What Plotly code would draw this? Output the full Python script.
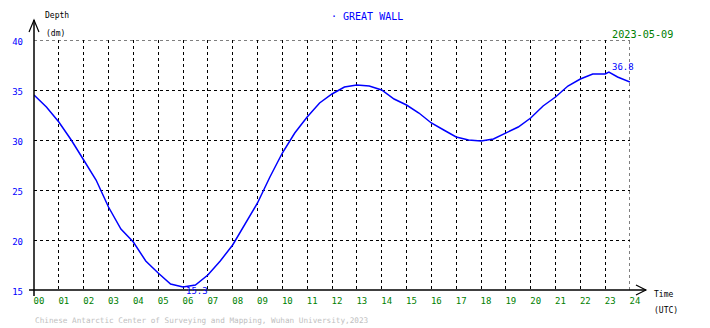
import plotly.graph_objects as go

# ---- data ----
hours = [0, 0.5, 1, 1.5, 2, 2.5, 3, 3.5, 4, 4.5, 5, 5.5, 6, 6.5, 7, 7.5, 8, 8.5, 9,
         9.5, 10, 10.5, 11, 11.5, 12, 12.5, 13, 13.5, 14, 14.5, 15, 15.5, 16, 16.5,
         17, 17.5, 18, 18.5, 19, 19.5, 20, 20.5, 21, 21.5, 22, 22.5, 23, 23.15, 23.5, 24]
depth = [34.5, 33.3, 31.8, 30.0, 28.0, 26.0, 23.3, 21.1, 19.8, 17.9, 16.7, 15.6, 15.3,
         15.5, 16.5, 17.9, 19.5, 21.6, 23.7, 26.3, 28.7, 30.7, 32.3, 33.7, 34.6, 35.3,
         35.5, 35.4, 35.0, 34.1, 33.5, 32.7, 31.7, 31.0, 30.3, 30.0, 29.9, 30.1, 30.7,
         31.3, 32.2, 33.4, 34.3, 35.4, 36.1, 36.6, 36.6, 36.8, 36.3, 35.8]
x_tick_vals = list(range(0, 25))
x_tick_text = ["%02d" % h for h in x_tick_vals]
y_tick_vals = [15, 20, 25, 30, 35, 40]
y_tick_text = [str(v) for v in y_tick_vals]
station = "GREAT WALL"
date_text = "2023-05-09"
footer = "Chinese Antarctic Center of Surveying and Mapping, Wuhan University,2023"

MONO = "DejaVu Sans Mono"
BLUE = "#0000ff"
GREEN = "#008000"

X_RANGE = [0, 24]
Y_RANGE = [15, 40]

# plot area in pixels: x 30..630, y 40..290
L, R, T, B = 30, 80, 40, 38
W, H = 710, 328
PW, PH = W - L - R, H - T - B


def px(xp):
    return (xp - L) / PW


def py(yp):
    return (H - B - yp) / PH


fig = go.Figure()
fig.add_trace(go.Scatter(x=hours, y=depth, mode="lines",
                         line=dict(color=BLUE, width=1.5), hoverinfo="skip"))

imin = depth.index(min(depth))
imax = depth.index(max(depth))

annotations = [
    dict(x=px(327), y=py(17), xref="paper", yref="paper", text="· " + station,
         showarrow=False, xanchor="left", yanchor="middle",
         font=dict(family=MONO, size=10, color=BLUE)),
    dict(x=px(610), y=py(35), xref="paper", yref="paper", text=date_text,
         showarrow=False, xanchor="left", yanchor="middle",
         font=dict(family=MONO, size=10.2, color=GREEN)),
    dict(x=px(39), y=py(16), xref="paper", yref="paper", text="Depth",
         showarrow=False, xanchor="left", yanchor="middle",
         font=dict(family=MONO, size=8, color="black")),
    dict(x=px(40), y=py(34), xref="paper", yref="paper", text="(dm)",
         showarrow=False, xanchor="left", yanchor="middle",
         font=dict(family=MONO, size=8, color="black")),
    dict(x=px(652), y=py(294), xref="paper", yref="paper", text="Time",
         showarrow=False, xanchor="left", yanchor="middle",
         font=dict(family=MONO, size=8, color="black")),
    dict(x=px(652), y=py(310), xref="paper", yref="paper", text="(UTC)",
         showarrow=False, xanchor="left", yanchor="middle",
         font=dict(family=MONO, size=8, color="black")),
    dict(x=px(29), y=py(320), xref="paper", yref="paper", text=footer,
         showarrow=False, xanchor="left", yanchor="middle",
         font=dict(family=MONO, size=7.7, color="#c0c0c0")),
    dict(x=hours[imin], y=depth[imin], xref="x", yref="y", text="%.1f" % depth[imin],
         showarrow=False, xanchor="left", yanchor="middle", xshift=1, yshift=-4,
         font=dict(family=MONO, size=9, color=BLUE)),
    dict(x=hours[imax], y=depth[imax], xref="x", yref="y", text="%.1f" % depth[imax],
         showarrow=False, xanchor="left", yanchor="middle", xshift=1, yshift=5,
         font=dict(family=MONO, size=9, color=BLUE)),
]

grid_line = dict(color="black", width=1, dash="dot")
shapes = [
    # edge grid lines (top and right) that plotly omits at range ends
    dict(type="line", xref="x", yref="y", x0=X_RANGE[0], x1=X_RANGE[1],
         y0=Y_RANGE[1], y1=Y_RANGE[1], line=grid_line, layer="below"),
    dict(type="line", xref="x", yref="y", x0=X_RANGE[1], x1=X_RANGE[1],
         y0=Y_RANGE[0], y1=Y_RANGE[1], line=grid_line, layer="below"),
    # vertical axis with arrow
    dict(type="line", xref="paper", yref="paper", x0=px(30), x1=px(30), y0=py(20), y1=py(296),
         line=dict(color="black", width=1.5)),
    dict(type="path", xref="paper", yref="paper",
         path="M %f %f L %f %f L %f %f" % (px(25), py(32), px(30), py(20), px(35), py(32)),
         line=dict(color="black", width=1.2)),
    # horizontal axis with arrow
    dict(type="line", xref="paper", yref="paper", x0=px(25), x1=px(646), y0=py(290), y1=py(290),
         line=dict(color="black", width=1.5)),
    dict(type="path", xref="paper", yref="paper",
         path="M %f %f L %f %f L %f %f" % (px(636), py(285), px(646), py(290), px(636), py(295)),
         line=dict(color="black", width=1.2)),
]

fig.update_layout(
    width=W, height=H,
    margin=dict(l=L, r=R, t=T, b=B, pad=0),
    paper_bgcolor="white", plot_bgcolor="white",
    showlegend=False,
    annotations=annotations,
    shapes=shapes,
    xaxis=dict(range=X_RANGE, tickvals=x_tick_vals, ticktext=x_tick_text,
               showgrid=True, gridcolor="black", griddash="dot", gridwidth=1,
               zeroline=False, showline=False, ticks="", ticklabelshift=5,
               ticklabelstandoff=4,
               tickfont=dict(family=MONO, size=9, color=GREEN), fixedrange=True),
    yaxis=dict(range=Y_RANGE, tickvals=y_tick_vals, ticktext=y_tick_text,
               showgrid=True, gridcolor="black", griddash="dot", gridwidth=1,
               zeroline=False, showline=False, ticks="", ticklabelstandoff=10,
               ticklabelshift=2,
               tickfont=dict(family=MONO, size=9, color=BLUE), fixedrange=True),
)

fig.write_html("out.html", config={"displayModeBar": False},
               post_script="document.body.style.margin='0';document.body.style.overflow='hidden';")
